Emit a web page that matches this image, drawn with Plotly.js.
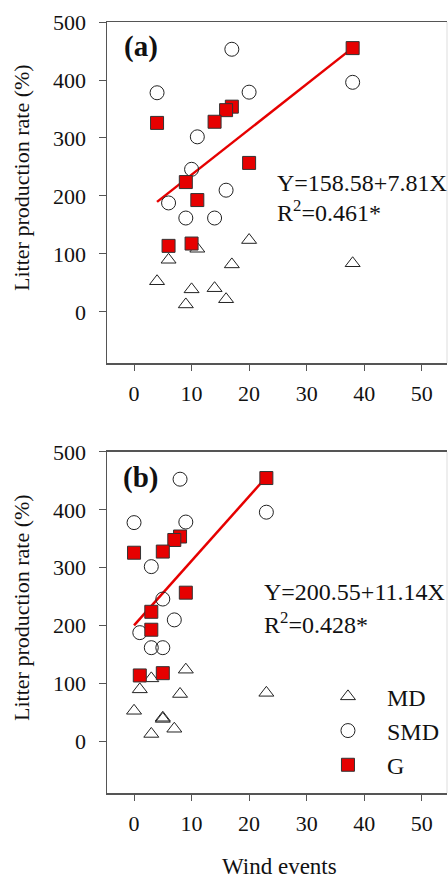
<!DOCTYPE html>
<html>
<head>
<meta charset="utf-8">
<script src="https://cdn.plot.ly/plotly-3.0.1.min.js"></script>
<style>html,body{margin:0;padding:0;background:#fff;}#chart{width:448px;height:880px;}</style>
</head>
<body>
<div id="chart"></div>
<script>
// Litter production rate (%) per site, grouped by forest type
const mdRate  = [124, 109, 90, 82, 84, 53, 39, 41, 22, 13];
const smdRate = [453, 378, 379, 396, 302, 246, 188, 210, 162, 162];
const gRate   = [455, 354, 348, 328, 326, 257, 224, 193, 114, 118];

// Wind events, panel (a)
const mdWindA  = [20, 11, 6, 17, 38, 4, 10, 14, 16, 9];
const smdWindA = [17, 4, 20, 38, 11, 10, 6, 16, 9, 14];
const gWindA   = [38, 17, 16, 14, 4, 20, 9, 11, 6, 10];

// Wind events, panel (b)
const mdWindB  = [9, 3, 1, 8, 23, 0, 5, 5, 7, 3];
const smdWindB = [8, 0, 9, 23, 3, 5, 1, 7, 3, 5];
const gWindB   = [23, 8, 7, 5, 0, 9, 3, 3, 1, 5];

// Regression fits
const fitA = {a: 158.58, b: 7.81, xs: [4, 38], label: "Y=158.58+7.81X", r2: "0.461*"};
const fitB = {a: 200.55, b: 11.14, xs: [0, 23], label: "Y=200.55+11.14X", r2: "0.428*"};

const seriesNames = ["MD", "SMD", "G"];
const xTicks = [0, 10, 20, 30, 40, 50];
const yTicks = [0, 100, 200, 300, 400, 500];

const FONT = "Liberation Serif, Times New Roman, serif";
const RED = "#e60000";

function markerStyle(i){
  if(i===0) return {symbol:"triangle-up-open", size:13, color:"#222", line:{width:1, color:"#222"}};
  if(i===1) return {symbol:"circle-open", size:14, color:"#222", line:{width:1, color:"#222"}};
  return {symbol:"square", size:13, color:RED, line:{width:1, color:"#333"}};
}

const traces = [];
const setsA = [[mdWindA, mdRate],[smdWindA, smdRate],[gWindA, gRate]];
const setsB = [[mdWindB, mdRate],[smdWindB, smdRate],[gWindB, gRate]];
[fitA, fitB].forEach((f, p) => {
  traces.push({x: f.xs, y: f.xs.map(v => f.a + f.b*v), mode:"lines", line:{color:RED, width:2.5},
    xaxis: p? "x2":"x", yaxis: p? "y2":"y", showlegend:false, hoverinfo:"skip"});
});
setsA.forEach((s, i) => traces.push({x:s[0], y:s[1], mode:"markers", marker:markerStyle(i),
  name:seriesNames[i], showlegend:false, xaxis:"x", yaxis:"y"}));
setsB.forEach((s, i) => traces.push({x:s[0], y:s[1], mode:"markers", marker:markerStyle(i),
  name:seriesNames[i], showlegend:true, xaxis:"x2", yaxis:"y2"}));

function xax(anchor){
  return {range:[-4.7, 54.4], tickvals:xTicks, ticktext:xTicks.map(String), anchor:anchor,
    showline:true, linecolor:"#555", linewidth:1.5, mirror:true, ticks:"outside", ticklen:6,
    tickcolor:"#555", tickwidth:1, showgrid:false, zeroline:false,
    tickfont:{family:FONT, size:22, color:"#111"}, ticklabelstandoff:4};
}
function yax(domain, anchor, lo){
  return {domain:domain, range:[lo, 500], tickvals:yTicks, ticktext:yTicks.map(String), anchor:anchor,
    showline:true, linecolor:"#555", linewidth:1.5, ticks:"outside", ticklen:7, tickcolor:"#555",
    tickwidth:1, showgrid:false, zeroline:false,
    tickfont:{family:FONT, size:22, color:"#111"}, ticklabelstandoff:8};
}

const ann = [];
function txt(x, y, text, size, extra){
  ann.push(Object.assign({xref:"paper", yref:"paper", x:x, y:y, text:text, showarrow:false,
    xanchor:"left", yanchor:"middle", font:{family:FONT, size:size, color:"#111"}}, extra||{}));
}
txt(0.044, 0.9676, "<b>(a)</b>", 29);
txt(0.494, 0.791, fitA.label, 24);
txt(0.494, 0.7555, "R<sup>2</sup>=" + fitA.r2, 24);
txt(0.040, 0.4086, "<b>(b)</b>", 29);
txt(0.456, 0.2607, fitB.label, 24);
txt(0.456, 0.2211, "R<sup>2</sup>=" + fitB.r2, 24);
txt(-0.250, 0.7977, "Litter production rate (%)", 22, {textangle:-90, xanchor:"center"});
txt(-0.250, 0.240, "Litter production rate (%)", 22, {textangle:-90, xanchor:"center"});
txt(0.506, -0.0947, "Wind events", 23, {xanchor:"center"});

const layout = {
  width:448, height:880,
  margin:{l:107, r:1, t:22, b:87},
  paper_bgcolor:"#fff", plot_bgcolor:"#fff",
  xaxis: xax("y"),
  yaxis: yax([0.5577, 1], "x", -88),
  xaxis2: xax("y2"),
  yaxis2: yax([0, 0.4423], "x2", -89),
  showlegend:true,
  legend:{x:0.594, y:0.154, xanchor:"left", yanchor:"top", bgcolor:"rgba(0,0,0,0)",
    font:{family:FONT, size:24, color:"#111"}, tracegroupgap:0, itemwidth:68},
  annotations: ann,
  shapes:[
    {type:"line", xref:"paper", yref:"paper", x0:1, x1:1, y0:0.5577, y1:1, line:{color:"#ddd", width:1}},
    {type:"line", xref:"paper", yref:"paper", x0:1, x1:1, y0:0, y1:0.4423, line:{color:"#ddd", width:1}}
  ]
};
Plotly.newPlot("chart", traces, layout, {staticPlot:true, displayModeBar:false});
</script>
</body>
</html>
